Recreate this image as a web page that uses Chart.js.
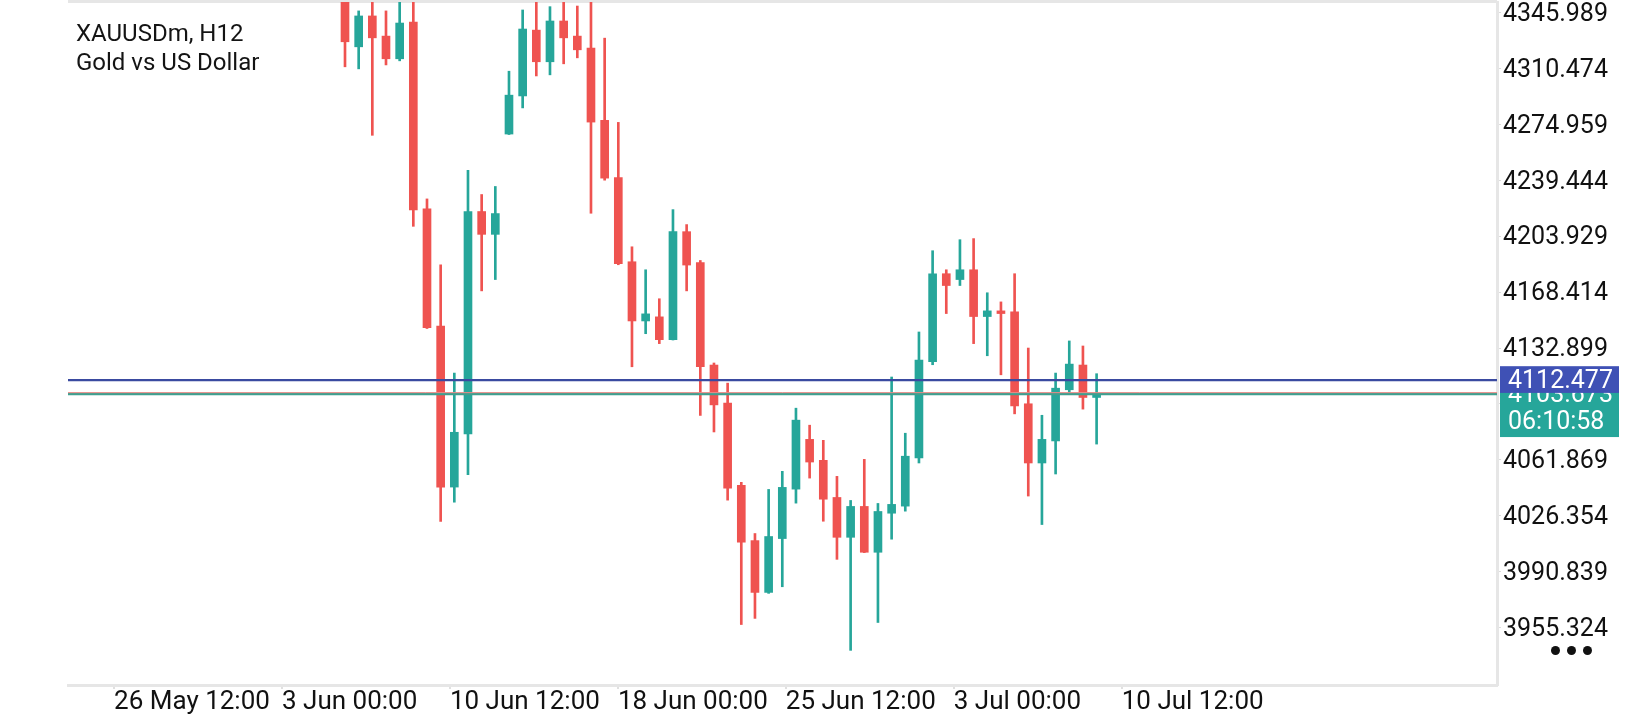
<!DOCTYPE html>
<html>
<head>
<meta charset="utf-8">
<script src="https://cdn.jsdelivr.net/npm/chart.js@4.4.1/dist/chart.umd.min.js"></script>
<style>
html, body { margin: 0; padding: 0; background: #fff; }
#wrap { position: relative; width: 1640px; height: 720px; }
#title { position: absolute; left: 76px; top: 19px; font: 24px/28.5px Roboto, sans-serif; color: #141414; }
.dot { position: absolute; width: 9px; height: 9px; border-radius: 50%; background: #111; top: 646px; }
</style>
</head>
<body>
<div id="wrap">
  <canvas id="chart" width="1640" height="720"></canvas>
  <div id="title">XAUUSDm, H12<br>Gold vs US Dollar</div>
  <div class="dot" style="left:1551px"></div>
  <div class="dot" style="left:1567px"></div>
  <div class="dot" style="left:1583px"></div>
</div>
<script>
// H12 candles, oldest first (bar index = position in the arrays)
const opens  = [4356.0,4324.2,4343.8,4331.0,4316.6,4339.9,4221.3,4146.9,4044.6,4078.3,4219.6,4205.1,4268.8,4293.0,4334.8,4314.7,4340.6,4331.0,4323.4,4277.5,4241.2,4187.7,4150.1,4152.7,4138.2,4206.8,4187.1,4122.1,4097.9,4045.7,4010.6,3977.7,4011.9,4043.3,4074.9,4061.6,4038.0,4012.7,4032.3,4003.2,4028.0,4032.5,4063.1,4124.2,4180.1,4176.4,4182.6,4152.9,4156.5,4155.9,4097.5,4059.9,4073.9,4106.4,4122.1,4101.5];
const highs  = [4360.0,4347.0,4356.0,4347.0,4355.0,4355.0,4227.6,4185.8,4117.0,4245.7,4230.4,4235.5,4308.7,4347.6,4355.0,4349.7,4356.0,4350.1,4357.0,4329.7,4276.2,4197.2,4182.6,4164.2,4220.8,4211.3,4188.5,4123.4,4110.6,4047.6,4015.1,4043.1,4054.6,4094.7,4083.9,4074.3,4051.4,4036.1,4062.2,4034.2,4114.5,4078.8,4143.1,4194.7,4182.6,4201.7,4202.4,4168.0,4162.2,4180.1,4132.9,4090.2,4117.0,4137.4,4134.2,4116.6];
const lows   = [4311.5,4310.2,4268.0,4312.7,4315.3,4210.2,4145.3,4022.8,4035.0,4052.5,4169.2,4176.4,4268.5,4285.4,4305.7,4306.4,4313.4,4317.2,4218.5,4239.5,4185.8,4121.0,4142.0,4135.7,4138.0,4169.2,4090.1,4079.6,4036.3,3957.3,3961.2,3977.1,3981.3,4034.4,4050.3,4022.9,3998.7,3940.9,4003.0,3958.6,4011.5,4029.3,4059.9,4122.3,4154.8,4172.6,4135.7,4128.0,4115.9,4091.1,4038.9,4020.8,4052.9,4103.8,4094.1,4071.9];
const closes = [4327.4,4343.8,4329.9,4316.6,4339.3,4220.6,4145.9,4044.6,4079.4,4219.6,4205.1,4218.3,4293.5,4335.5,4314.7,4340.6,4329.9,4322.3,4276.4,4240.8,4186.4,4150.1,4154.6,4138.2,4206.8,4185.6,4121.0,4096.8,4043.9,4009.6,3977.7,4013.2,4044.4,4087.1,4060.5,4036.9,4012.7,4032.3,4003.2,4029.1,4033.6,4064.2,4125.3,4180.1,4172.6,4182.6,4152.9,4156.5,4154.8,4096.2,4059.9,4074.9,4107.4,4122.7,4101.5,4103.673];

// time labels and where they sit, in bar-index units
const timeLabels = ['26 May 12:00','3 Jun 00:00','10 Jun 12:00','18 Jun 00:00','25 Jun 12:00','3 Jul 00:00','10 Jul 12:00'];
const timeLabelAt = [-16.9,-4.61,7.68,19.97,32.26,44.55,56.84];

// price axis
const priceTicks = [3955.324,3990.839,4026.354,4061.869,4097.384,4132.899,4168.414,4203.929,4239.444,4274.959,4310.474,4345.989];
const priceMin = 3918.9, priceMax = 4352.66;
const barMin = -20.27, barMax = 84.3;

const askPrice = 4112.477;
const bidPrice = 4103.673;
const countdown = '06:10:58';

const UP = '#26a69a', DOWN = '#ef5350';
const candleColors = opens.map((o, i) => closes[i] >= o ? UP : DOWN);

const wickData = lows.map((l, i) => ({ x: i, y: [l, highs[i]] }));
const bodyData = opens.map((o, i) => ({ x: i, y: [o, closes[i]] }));
const hline = v => [{ x: barMin, y: v }, { x: barMax, y: v }];

const noPad = s => { s.paddingTop = 0; s.paddingBottom = 0; s.paddingLeft = 0; s.paddingRight = 0; };

const priceBoxes = {
    id: 'priceBoxes',
    beforeDraw(chart) {
        const { ctx, chartArea: a } = chart;
        ctx.save();
        ctx.fillStyle = '#e6e6e6';
        ctx.fillRect(a.left, 0, a.right - a.left, 3);
        ctx.restore();
    },
    afterDraw(chart) {
        const { ctx, chartArea: a } = chart;
        const ys = chart.scales.y;
        const yb = ys.getPixelForValue(bidPrice), ya = ys.getPixelForValue(askPrice);
        const x = a.right + 3, w = 119;
        ctx.save();
        ctx.font = '25px Roboto';
        ctx.textBaseline = 'middle';
        ctx.fillStyle = UP;
        ctx.fillRect(x, yb - 16, w, 59);
        ctx.fillStyle = '#fff';
        ctx.fillText(bidPrice.toFixed(3), x + 8, yb + 2);
        ctx.fillText(countdown, x + 8, yb + 29);
        ctx.fillStyle = '#3f51b5';
        ctx.fillRect(x, ya - 14, w, 26.7);
        ctx.fillStyle = '#fff';
        ctx.fillText(askPrice.toFixed(3), x + 8, ya + 1.5);
        ctx.restore();
    }
};

new Chart(document.getElementById('chart'), {
    type: 'bar',
    data: {
        datasets: [
            { type: 'line', data: hline(askPrice), borderColor: '#3a4aa0', borderWidth: 2.2, pointRadius: 0, order: 0 },
            { type: 'line', data: hline(bidPrice + 0.9), borderColor: '#ef8a86', borderWidth: 1, pointRadius: 0, order: 0 },
            { type: 'line', data: hline(bidPrice), borderColor: '#3f9f8f', borderWidth: 2.5, pointRadius: 0, order: 0 },
            { data: bodyData, backgroundColor: candleColors, barThickness: 8, minBarLength: 2, grouped: false, clip: 0, order: 1 },
            { data: wickData, backgroundColor: candleColors, barThickness: 2, grouped: false, clip: 0, order: 2 }
        ]
    },
    options: {
        responsive: false,
        animation: false,
        layout: { padding: { left: 68, top: 2, right: 0, bottom: 0 } },
        plugins: { legend: { display: false }, tooltip: { enabled: false } },
        scales: {
            x: {
                type: 'linear', position: 'bottom', min: barMin, max: barMax, offset: false,
                afterBuildTicks: s => { s.ticks = timeLabelAt.map(v => ({ value: v })); },
                afterFit: s => { s.height = 35; noPad(s); },
                ticks: { callback: (v, i) => timeLabels[i], align: 'start', autoSkip: false, maxRotation: 0,
                         padding: 0, color: '#111', font: { family: 'Roboto', size: 26, lineHeight: 1 } },
                grid: { drawOnChartArea: false, offset: false, tickLength: 4, color: '#e0e0e0', lineWidth: 2 },
                border: { color: '#e6e6e6', width: 3 }
            },
            y: {
                type: 'linear', position: 'right', min: priceMin, max: priceMax,
                afterBuildTicks: s => { s.ticks = priceTicks.map(v => ({ value: v })); },
                afterFit: s => { s.width = 143; noPad(s); },
                ticks: { callback: v => v.toFixed(3), crossAlign: 'near', padding: 2, labelOffset: 2, color: '#111',
                         font: { family: 'Roboto', size: 25 } },
                grid: { drawOnChartArea: false, tickLength: 4, color: '#dcdcdc' },
                border: { color: '#e6e6e6', width: 3 }
            }
        }
    },
    plugins: [priceBoxes]
});
</script>
</body>
</html>
